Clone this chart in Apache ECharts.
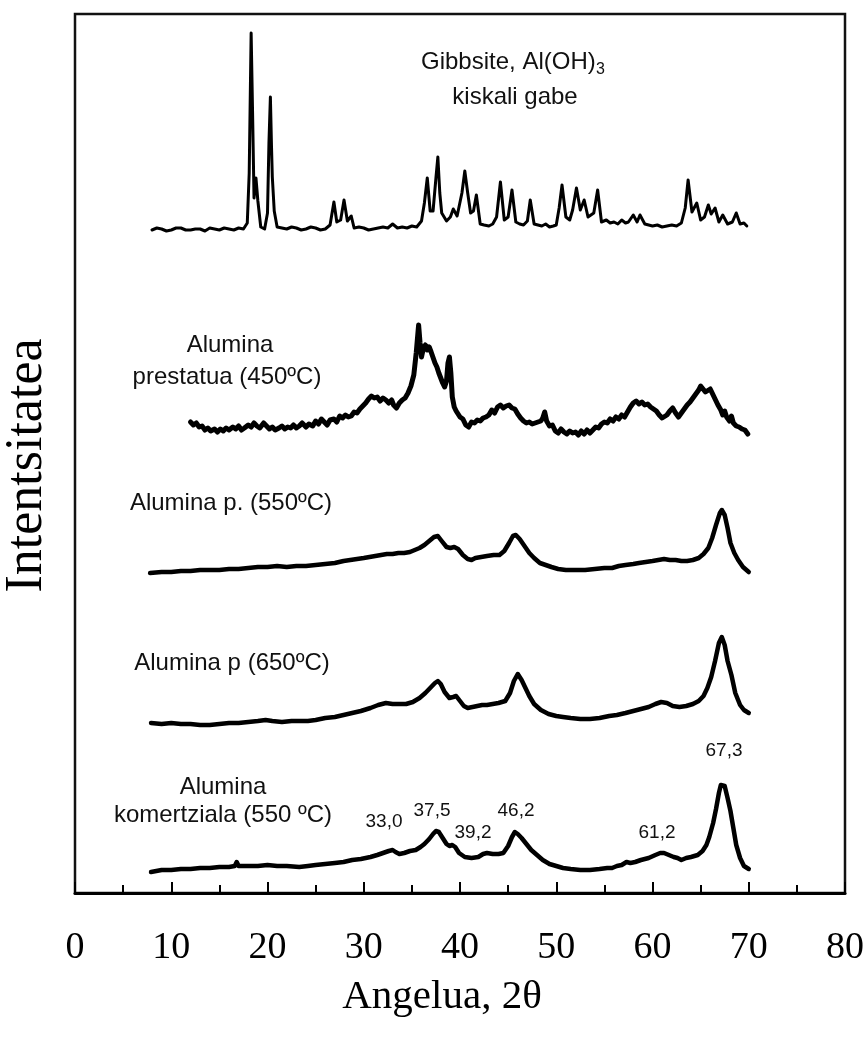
<!DOCTYPE html>
<html>
<head>
<meta charset="utf-8">
<script src="https://cdn.jsdelivr.net/npm/echarts@6/dist/echarts.min.js"></script>
<style>html,body{margin:0;padding:0;background:#fff}#c{width:866px;height:1044px}</style>
</head>
<body>
<div id="c"></div>
<script>
// X-ray diffraction patterns, intensity in arbitrary units (curves vertically offset)
const xTicks = [0, 10, 20, 30, 40, 50, 60, 70, 80];

const gibbsite = [[8,663],[8.5,665],[9,664],[9.5,662],[10,663],[10.5,665],[11,665],[11.5,663],[12,663],[12.5,664],[13,664],[13.5,662],[14,665],[14.5,664],[15,663],[15.5,665],[16,664],[16.5,663],[17,665],[17.5,664],[17.9,670],[18.1,720],[18.3,860],[18.45,780],[18.6,695],[18.8,715],[19.0,692],[19.3,666],[19.7,664],[20.0,680],[20.15,750],[20.3,796],[20.42,745],[20.5,716],[20.7,682],[21.0,666],[21.5,665],[22,664],[22.5,666],[23,665],[23.5,663],[24,664],[24.5,666],[25,665],[25.5,663],[26,664],[26.5,668],[26.9,691],[27.2,671],[27.6,673],[27.95,693],[28.3,672],[28.7,677],[29.0,665],[29.5,666],[30,665],[30.5,663],[31,664],[31.5,665],[32,666],[32.5,665],[33.0,669],[33.5,665],[34,666],[34.5,665],[35,667],[35.5,666],[36.0,672],[36.3,690],[36.6,715],[36.9,682],[37.2,682],[37.5,715],[37.7,736],[37.9,700],[38.1,680],[38.6,672],[39.0,676],[39.3,684],[39.7,677],[40.2,700],[40.5,722],[40.8,700],[41.1,680],[41.4,682],[41.7,698],[42.1,669],[42.5,668],[43,667],[43.4,669],[43.8,676],[44.2,711],[44.6,673],[45.0,676],[45.4,703],[45.8,671],[46.2,669],[46.6,668],[47.0,672],[47.3,693],[47.7,669],[48.1,668],[48.5,667],[48.9,669],[49.3,666],[49.7,667],[50.0,668],[50.3,685],[50.6,708],[51.0,676],[51.4,673],[51.7,683],[52.1,705],[52.5,683],[52.9,693],[53.3,676],[53.9,680],[54.3,703],[54.7,671],[55.2,673],[55.6,670],[56.0,671],[56.4,669],[56.8,673],[57.2,670],[57.5,671],[58.0,678],[58.4,671],[58.7,678],[59.2,669],[59.6,668],[60,667],[60.5,668],[61,666],[61.5,667],[62,668],[62.5,667],[63,670],[63.4,685],[63.7,713],[64.1,681],[64.6,690],[65.0,673],[65.4,676],[65.8,688],[66.1,679],[66.5,685],[66.9,671],[67.3,678],[67.8,669],[68.3,671],[68.7,680],[69.1,669],[69.5,670],[69.8,667]];

const calc450 = [[12.0,471],[12.3,468],[12.6,470],[12.9,466],[13.2,467],[13.5,463],[13.8,465],[14.1,462],[14.5,464],[14.8,461],[15.1,464],[15.4,462],[15.7,465],[16.0,463],[16.4,466],[16.7,464],[17.0,467],[17.3,463],[17.6,465],[18.0,468],[18.3,466],[18.6,470],[18.9,467],[19.2,465],[19.6,470],[19.9,467],[20.2,464],[20.5,466],[20.8,463],[21.2,465],[21.5,467],[21.8,464],[22.1,466],[22.4,465],[22.7,468],[23.0,465],[23.3,467],[23.6,470],[24.0,466],[24.3,469],[24.7,467],[25.0,472],[25.3,469],[25.6,474],[25.9,471],[26.2,468],[26.5,473],[26.9,474],[27.2,471],[27.5,477],[27.8,475],[28.1,478],[28.4,476],[28.7,477],[29.0,481],[29.3,480],[29.6,484],[29.9,487],[30.2,490],[30.5,494],[30.8,497],[31.1,495],[31.4,496],[31.7,492],[32.0,495],[32.3,493],[32.6,490],[32.9,493],[33.1,488],[33.4,485],[33.7,490],[34.0,493],[34.3,495],[34.6,500],[34.9,507],[35.2,518],[35.45,540],[35.7,568],[35.85,550],[36.0,536],[36.2,545],[36.4,548],[36.6,543],[36.8,546],[37.0,541],[37.2,540],[37.4,530],[37.6,526],[37.8,520],[38.0,518],[38.2,510],[38.4,506],[38.6,512],[38.75,530],[38.9,536],[39.05,520],[39.2,496],[39.4,486],[39.6,482],[39.8,480],[40.0,476],[40.3,474],[40.6,468],[40.9,466],[41.2,471],[41.5,470],[41.8,473],[42.1,472],[42.4,475],[42.7,476],[43.0,478],[43.3,483],[43.6,480],[43.9,486],[44.2,488],[44.5,485],[44.8,487],[45.1,488],[45.4,485],[45.7,484],[46.0,479],[46.3,475],[46.6,472],[46.9,470],[47.2,471],[47.5,469],[47.8,470],[48.1,471],[48.4,472],[48.6,475],[48.8,481],[49.0,472],[49.3,467],[49.6,468],[49.9,462],[50.2,460],[50.5,464],[50.8,461],[51.1,459],[51.4,462],[51.7,460],[52.0,461],[52.3,458],[52.6,462],[52.9,459],[53.2,463],[53.5,460],[53.8,463],[54.1,466],[54.4,465],[54.7,469],[55.0,471],[55.3,470],[55.6,474],[55.9,472],[56.2,476],[56.5,474],[56.8,478],[57.1,476],[57.4,481],[57.7,486],[58.0,490],[58.3,492],[58.6,489],[58.9,491],[59.2,488],[59.5,489],[59.8,486],[60.1,484],[60.4,482],[60.7,478],[61.0,475],[61.2,473],[61.5,478],[61.8,482],[62.1,485],[62.4,480],[62.7,476],[63.0,480],[63.3,484],[63.6,488],[63.9,491],[64.2,495],[64.5,499],[64.8,503],[65.0,507],[65.2,505],[65.5,501],[65.7,503],[66.0,504],[66.2,500],[66.5,494],[66.8,488],[67.1,483],[67.3,478],[67.5,482],[67.7,476],[68.0,472],[68.2,477],[68.4,470],[68.7,467],[69.0,466],[69.3,464],[69.6,463],[69.9,459]];

const calc550 = [[7.8,320],[9,321],[10,321],[11,322],[12,322],[13,323],[14,323],[15,323],[16,324],[17,324],[18,325],[19,326],[20,326],[21,327],[22,326],[23,327],[24,327],[25,328],[26,329],[27,330],[27.9,332],[28.6,333],[29.3,334],[30.0,335],[30.6,336],[31.2,337],[31.8,338],[32.4,339],[33.0,339],[33.6,340],[34.2,340],[34.8,341],[35.3,343],[35.8,345],[36.3,348],[36.8,352],[37.3,356],[37.7,357],[38.1,352],[38.6,346],[39.0,345],[39.4,346],[39.8,344],[40.3,338],[40.8,334],[41.2,333],[41.6,335],[42.2,336],[42.8,337],[43.5,338],[44.1,338],[44.6,342],[45.1,350],[45.5,357],[45.8,358],[46.2,354],[46.7,347],[47.2,340],[47.7,335],[48.3,330],[48.9,328],[49.5,326],[50.2,324],[51.0,323],[52,323],[53,323],[54,324],[55,325],[55.8,325],[56.5,327],[57.2,328],[58.0,329],[58.6,330],[59.3,331],[60.0,332],[60.6,333],[61.2,334],[61.8,333],[62.4,333],[63.0,332],[63.6,332],[64.2,333],[64.8,335],[65.3,339],[65.8,345],[66.2,355],[66.6,368],[67.0,380],[67.2,383],[67.5,378],[67.8,365],[68.1,350],[68.5,340],[68.9,333],[69.4,326],[70.0,321]];

const calc650 = [[7.9,170],[9,169],[10,170],[11,169],[12,169],[13,168],[14,168],[15,169],[16,170],[17,170],[18,171],[19,172],[19.8,173],[20.5,172],[21.5,171],[22.5,172],[23.5,172],[24.2,172],[25,173],[26,175],[27,176],[27.9,178],[28.8,180],[29.7,182],[30.7,185],[31.5,188],[32.3,190],[33,189],[33.7,189],[34.4,189],[35.1,191],[35.8,195],[36.4,200],[37.0,206],[37.4,210],[37.7,212],[38.0,209],[38.4,201],[38.9,195],[39.3,196],[39.6,197],[40.0,192],[40.4,187],[40.8,185],[41.3,186],[41.8,187],[42.3,188],[42.8,188],[43.4,189],[44.0,190],[44.7,192],[45.2,200],[45.6,212],[46.0,219],[46.4,213],[46.8,205],[47.2,197],[47.7,189],[48.4,183],[49.2,179],[50.0,177],[50.7,176],[51.5,175],[52.5,174],[53.5,174],[54.5,175],[55.5,177],[56.3,178],[57.2,180],[58,182],[58.8,184],[59.6,186],[60.3,189],[60.9,191],[61.5,190],[62.1,187],[62.8,186],[63.5,187],[64.2,189],[64.8,192],[65.3,197],[65.7,205],[66.1,216],[66.5,232],[66.9,250],[67.2,256],[67.5,248],[67.8,232],[68.2,218],[68.6,200],[69.1,188],[69.5,183],[70.0,180]];

const commercial = [[7.9,21],[9,23],[10,23],[11,24],[12,24],[13,25],[14,25],[15,26],[16,26],[16.6,27],[16.8,31],[17.0,27],[18,27],[19,27],[20,28],[21,27],[22,27],[23.3,26],[24.2,27],[25,28],[26,29],[27,30],[27.9,31],[28.8,33],[29.7,34],[30.7,36],[31.4,38],[32.0,40],[32.6,42],[33.0,43],[33.3,41],[33.7,39],[34.2,40],[34.8,42],[35.4,43],[35.9,46],[36.3,49],[36.8,54],[37.2,59],[37.5,62],[37.8,61],[38.2,55],[38.6,49],[38.9,47],[39.2,48],[39.5,46],[39.9,40],[40.5,36],[41.2,35],[41.9,36],[42.4,39],[42.8,40],[43.4,39],[44.0,39],[44.5,40],[45.0,47],[45.4,56],[45.7,61],[46.0,59],[46.4,55],[46.9,49],[47.4,43],[48.0,38],[48.6,33],[49.3,29],[50.0,27],[50.7,25],[51.5,24],[52.5,23],[53.5,23],[54.5,24],[55.3,25],[55.8,25],[56.3,27],[56.8,28],[57.3,31],[57.7,30],[58.2,31],[58.8,33],[59.6,35],[60.3,38],[60.8,40],[61.2,40],[61.7,38],[62.2,36],[62.6,35],[63.0,33],[63.5,35],[64.0,36],[64.7,38],[65.2,42],[65.6,48],[65.9,56],[66.3,70],[66.6,84],[66.9,100],[67.1,108],[67.3,110],[67.5,107],[67.8,95],[68.1,82],[68.4,65],[68.7,48],[69.1,35],[69.5,27],[70.0,24]];

const sampleLabels = ['Gibbsite, Al(OH)', 'kiskali gabe', 'Alumina', 'prestatua (450ºC)', 'Alumina p. (550ºC)', 'Alumina p (650ºC)', 'Alumina', 'komertziala (550 ºC)'];
const peakLabels = ['33,0', '37,5', '39,2', '46,2', '61,2', '67,3'];

const serif = "'Liberation Serif','Times New Roman',serif";
const sans = "'Liberation Sans',Arial,sans-serif";

const chart = echarts.init(document.getElementById('c'), null, {renderer: 'canvas'});

function line(name, data, w) {
  return {
    name, type: 'line', data, showSymbol: false, symbol: 'none', smooth: false,
    lineStyle: {color: '#000', width: w, cap: 'round', join: 'round'},
    animation: false, z: 3
  };
}

function txt(x, y, s, size, align) {
  return {type: 'text', x, y, style: {text: s, fontSize: size, fontFamily: sans, fill: '#111', align: align || 'center', verticalAlign: 'middle'}};
}

chart.setOption({
  animation: false,
  backgroundColor: '#fff',
  grid: {left: 75, right: 21, top: 14, bottom: 151, outerBoundsMode: 'none', containLabel: false, show: true, borderColor: '#111', borderWidth: 2.5},
  xAxis: {
    type: 'value', min: xTicks[0], max: xTicks[xTicks.length - 1], interval: 10,
    axisLine: {show: true, lineStyle: {color: '#000', width: 3}},
    axisTick: {show: true, inside: true, length: 11, lineStyle: {color: '#000', width: 2}},
    minorTick: {show: true, splitNumber: 2, length: 8, lineStyle: {color: '#000', width: 2}},
    splitLine: {show: false}, minorSplitLine: {show: false},
    axisLabel: {fontSize: 38, color: '#000', fontFamily: serif, margin: 36},
    name: 'Angelua, 2θ', nameLocation: 'middle', nameGap: 84,
    nameTextStyle: {fontSize: 41, color: '#000', fontFamily: serif, padding: [0, 36, 0, 0]}
  },
  yAxis: {
    type: 'value', min: 0, max: 879,
    axisLine: {show: false}, axisTick: {show: false}, axisLabel: {show: false}, splitLine: {show: false},
    name: 'Intentsitatea', nameLocation: 'middle', nameRotate: 90, nameGap: 22,
    nameTextStyle: {fontSize: 52, color: '#000', fontFamily: serif, padding: [0, 24, 0, 0]}
  },
  series: [
    line('Gibbsite', gibbsite, 3),
    line('450', calc450, 5),
    line('550', calc550, 4.5),
    line('650', calc650, 4.5),
    line('komertziala', commercial, 4.5)
  ],
  graphic: [
    txt(421, 62, sampleLabels[0], 24, 'left'),
    {type: 'text', x: 596, y: 70, style: {text: '3', fontSize: 16, fontFamily: sans, fill: '#111', align: 'left', verticalAlign: 'middle'}},
    txt(515, 97, sampleLabels[1], 24),
    txt(230, 345, sampleLabels[2], 24),
    txt(227, 377, sampleLabels[3], 24),
    txt(231, 503, sampleLabels[4], 24),
    txt(232, 663, sampleLabels[5], 24),
    txt(223, 787, sampleLabels[6], 24),
    txt(223, 815, sampleLabels[7], 24),
    txt(384, 822, peakLabels[0], 19),
    txt(432, 811, peakLabels[1], 19),
    txt(473, 833, peakLabels[2], 19),
    txt(516, 811, peakLabels[3], 19),
    txt(657, 833, peakLabels[4], 19),
    txt(724, 751, peakLabels[5], 19)
  ]
});
</script>
</body>
</html>
